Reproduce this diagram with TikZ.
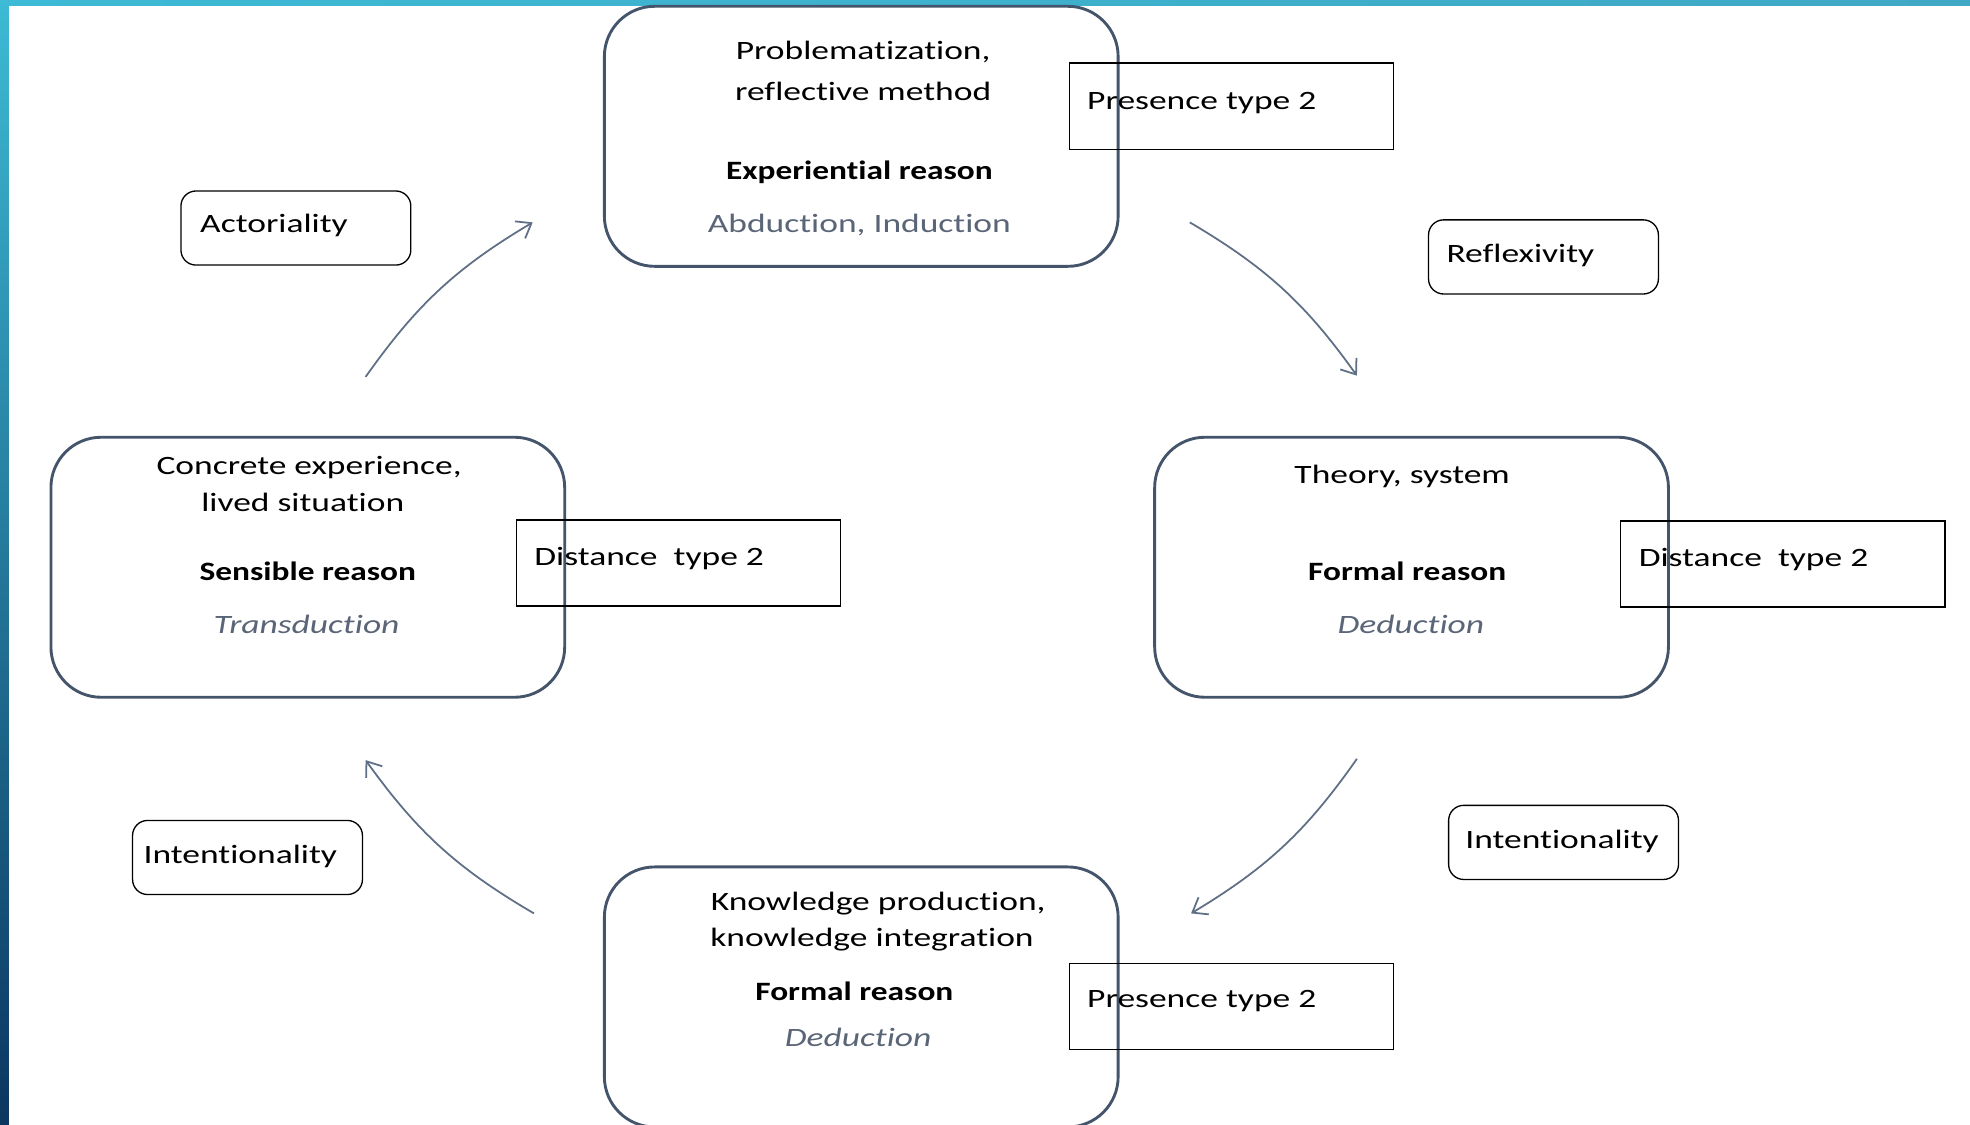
\documentclass[tikz,border=0pt]{standalone}
\usepackage{fontspec}
\setmainfont[FakeStretch=1.34, Ligatures={NoCommon}, BoldFeatures={FakeStretch=1.26}]{Carlito}
\usetikzlibrary{arrows.meta}
\definecolor{boxline}{HTML}{44546A}
\definecolor{arrowline}{HTML}{5F6F86}
\definecolor{softtext}{HTML}{5A6577}
\definecolor{bartop}{HTML}{3DBAD5}
\definecolor{barbottom}{HTML}{0B3660}
\definecolor{barright}{HTML}{3FA8C5}

\begin{document}
\begin{tikzpicture}[
        x = .02cm,
        y = -.02cm,
        font = \fontsize{12pt}{14pt}\selectfont,
        mainbox/.style = {draw = boxline, line width = 1.3pt, rounded corners = .8cm,
            minimum width = 8.18cm, minimum height = 4.14cm},
        tagbox/.style = {draw = black, line width = .6pt, minimum width = 5.16cm, minimum height = 1.37cm},
        labelbox/.style = {draw = black, line width = .6pt, rounded corners = .24cm,
            minimum width = 3.66cm, minimum height = 1.18cm},
        txt/.style = {inner sep = 0, anchor = base},
        lefttxt/.style = {inner sep = 0, anchor = base west},
        soft/.style = {txt, text = softtext},
        loopline/.style = {draw = arrowline, line width = .8pt,
            -{Straight Barb[length = 6pt, width = 9pt]}, bend left = 12}
    ]
        \useasboundingbox (0, 0) rectangle (1568, 895);
        \fill[white] (0, 0) rectangle (1568, 895);
        \shade[top color = bartop, bottom color = barbottom] (0, 0) rectangle (7, 895);
        \shade[left color = bartop, right color = barright] (0, 0) rectangle (1568, 4);

        \node[mainbox] (problem) at (685.5, 108.5) {};
        \node[txt] (problemA) at (687, 47) {Problematization,};
        \node[txt] (problemB) at (687, 80) {reflective method};
        \node[txt] (problemC) at (684, 143) {\bfseries Experiential reason};
        \node[soft] (problemD) at (684, 185) {Abduction, Induction};
        \node[tagbox] (presenceA) at (980, 84.5) {};
        \node[lefttxt] at (865, 87) {Presence type 2};

        \node[mainbox] (concrete) at (245, 451.5) {};
        \node[txt] (concreteA) at (246, 378) {Concrete experience,};
        \node[txt] (concreteB) at (241, 407) {lived situation};
        \node[txt] (concreteC) at (245, 462) {\bfseries Sensible reason};
        \node[soft] (concreteD) at (244, 504) {\itshape Transduction};
        \node[tagbox] (distanceA) at (540, 448) {};
        \node[lefttxt] at (425, 450) {Distance~ type 2};

        \node[mainbox] (theory) at (1123.5, 451.5) {};
        \node[txt] (theoryA) at (1116, 385) {Theory, system};
        \node[txt] (theoryB) at (1120, 462) {\bfseries Formal reason};
        \node[soft] (theoryC) at (1123, 504) {\itshape Deduction};
        \node[tagbox] (distanceB) at (1419, 449) {};
        \node[lefttxt] at (1304, 451) {Distance~ type 2};

        \node[mainbox] (knowledge) at (685.5, 793.5) {};
        \node[txt] (knowledgeA) at (699, 725) {Knowledge production,};
        \node[txt] (knowledgeB) at (694, 753) {knowledge integration};
        \node[txt] (knowledgeC) at (680, 796) {\bfseries Formal reason};
        \node[soft] (knowledgeD) at (683, 833) {\itshape Deduction};
        \node[tagbox] (presenceB) at (980, 801) {};
        \node[lefttxt] at (865, 802) {Presence type 2};

        \node[labelbox] (actoriality) at (235.5, 181.5) {};
        \node[lefttxt] at (159, 185) {Actoriality};
        \node[labelbox] (reflexivity) at (1228.5, 204.5) {};
        \node[lefttxt] at (1151, 209) {Reflexivity};
        \node[labelbox] (intentionA) at (197, 682.5) {};
        \node[lefttxt] at (114, 687) {Intentionality};
        \node[labelbox] (intentionB) at (1244.5, 670.5) {};
        \node[lefttxt] at (1166, 675) {Intentionality};

        \coordinate (upA) at (291, 300);
        \coordinate (upB) at (424, 177);
        \coordinate (rightA) at (947, 177);
        \coordinate (rightB) at (1080, 299);
        \coordinate (downA) at (1080, 604);
        \coordinate (downB) at (948, 727);
        \coordinate (leftA) at (425, 727);
        \coordinate (leftB) at (291, 605);
        \draw[loopline] (upA) to (upB);
        \draw[loopline] (rightA) to (rightB);
        \draw[loopline] (downA) to (downB);
        \draw[loopline] (leftA) to (leftB);
    \end{tikzpicture}
\end{document}
